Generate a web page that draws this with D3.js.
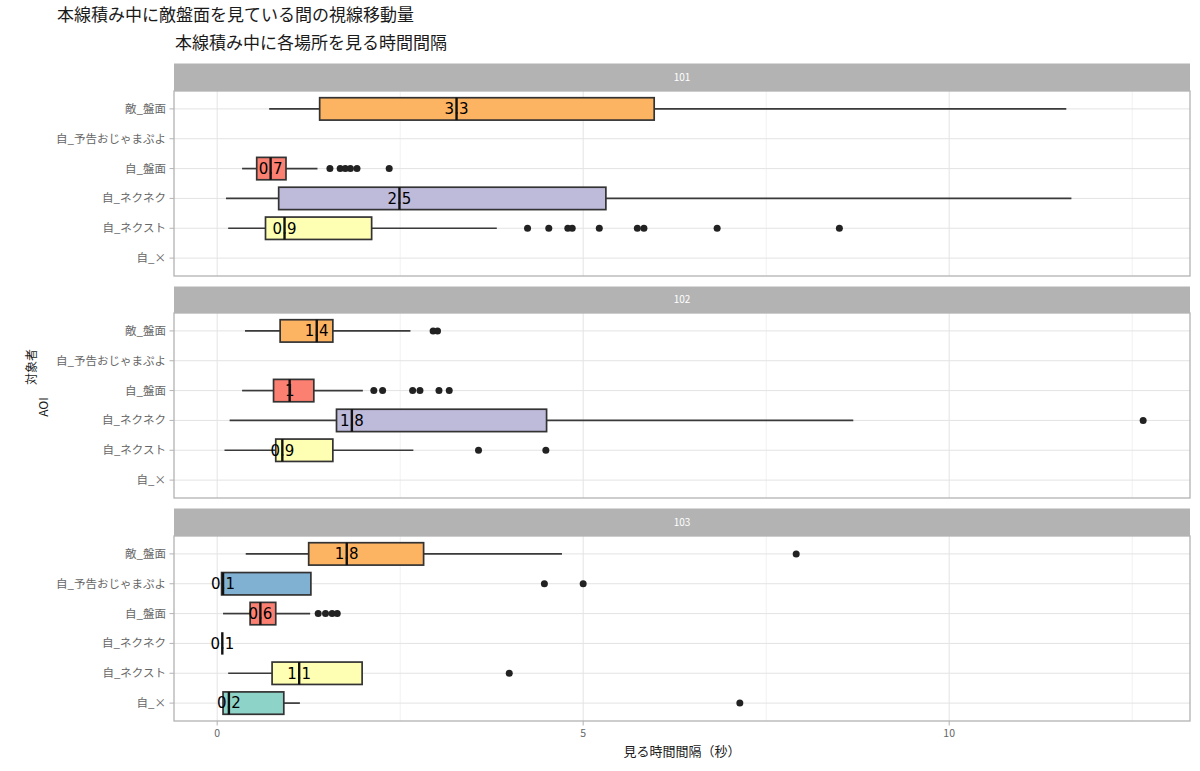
<!DOCTYPE html>
<html><head><meta charset="utf-8">
<script src="https://cdn.jsdelivr.net/npm/d3@7"></script>
<style>body{margin:0;background:#fff}text{font-family:"Noto Sans CJK JP","Noto Sans",sans-serif}</style>
</head><body><svg id="c" width="1200" height="771"></svg>
<script>
// ---- data ----
const title = "本線積み中に敵盤面を見ている間の視線移動量";
const subtitle = "本線積み中に各場所を見る時間間隔";
const categories = ["敵_盤面","自_予告おじゃまぷよ","自_盤面","自_ネクネク","自_ネクスト","自_×"];
const subjects = ["101","102","103"];
const xTicks = [0, 5, 10];
const xMinor = [2.5, 7.5, 12.5];
const xDomain = [-0.59, 13.29];
// [lower whisker, Q1, median, Q3, upper whisker] per category (null = no data)
const box101 = [[0.71,1.40,3.27,5.97,11.60], null, [0.34,0.54,0.73,0.94,1.37], [0.12,0.84,2.49,5.31,11.67], [0.15,0.66,0.92,2.11,3.82], null];
const out101 = [[], [], [1.54,1.68,1.75,1.82,1.91,2.35], [], [4.24,4.53,4.79,4.85,5.22,5.74,5.83,6.83,8.50], []];
const box102 = [[0.38,0.86,1.36,1.58,2.64], null, [0.34,0.77,0.99,1.32,1.99], [0.17,1.63,1.84,4.50,8.69], [0.10,0.80,0.89,1.58,2.68], null];
const out102 = [[2.95,3.01], [], [2.14,2.26,2.67,2.77,3.03,3.17], [12.65], [3.57,4.49], []];
const box103 = [[0.39,1.25,1.77,2.82,4.71], [0.06,0.06,0.08,1.28,1.28], [0.08,0.45,0.59,0.80,1.27], [0.07,0.07,0.07,0.07,0.07], [0.15,0.75,1.12,1.98,1.98], [0.08,0.08,0.16,0.91,1.13]];
const out103 = [[7.91], [4.47,5.00], [1.38,1.48,1.57,1.64], [], [3.99], [7.14]];
const boxes = [box101, box102, box103];
const outliers = [out101, out102, out103];

// ---- layout ----
const svg = d3.select("#c");
const L = 174, R = 1190;
const panels = [{s:63.5, t:91, b:276}, {s:286.5, t:313, b:498}, {s:508.5, t:536, b:721}];
const x = d3.scaleLinear().domain(xDomain).range([L, R]);
const color = d3.scaleOrdinal().domain(categories.slice().reverse()).range(d3.schemeSet3.slice(0, 6));
const fmt = v => String(Math.round(v * 10) / 10);

svg.append("rect").attr("width",1200).attr("height",771).attr("fill","#fff");
svg.append("text").attr("x",57).attr("y",21).attr("font-size",17).attr("fill","#1a1a1a").text(title);
svg.append("text").attr("x",175).attr("y",49).attr("font-size",17).attr("fill","#1a1a1a").text(subtitle);

panels.forEach((p, i) => {
  const y = d3.scalePoint().domain(categories).range([p.t, p.b]).padding(0.6);
  const bh = y.step() * 0.75;
  const g = svg.append("g");
  // strip
  g.append("rect").attr("x",L).attr("y",p.s).attr("width",R-L).attr("height",p.t-p.s).attr("fill","#B3B3B3");
  g.append("text").attr("x",(L+R)/2).attr("y",(p.s+p.t)/2).attr("dy","0.35em").attr("text-anchor","middle")
    .attr("font-size",10).attr("fill","#fff").text(subjects[i]);
  // grid
  g.selectAll(".gm").data(xMinor).join("line").attr("x1",d=>x(d)).attr("x2",d=>x(d)).attr("y1",p.t).attr("y2",p.b)
    .attr("stroke","#EDEDED").attr("stroke-width",0.8);
  g.selectAll(".gx").data(xTicks).join("line").attr("x1",d=>x(d)).attr("x2",d=>x(d)).attr("y1",p.t).attr("y2",p.b)
    .attr("stroke","#E3E3E3").attr("stroke-width",1);
  g.selectAll(".gy").data(categories).join("line").attr("x1",L).attr("x2",R).attr("y1",d=>y(d)).attr("y2",d=>y(d))
    .attr("stroke","#E3E3E3").attr("stroke-width",1);
  // y axis
  g.selectAll(".yt").data(categories).join("line").attr("x1",L-4.5).attr("x2",L).attr("y1",d=>y(d)).attr("y2",d=>y(d))
    .attr("stroke","#B3B3B3").attr("stroke-width",1);
  g.selectAll(".yl").data(categories).join("text").attr("x",L-8).attr("y",d=>y(d)).attr("dy","0.35em")
    .attr("text-anchor","end").attr("font-size",11.5).attr("fill","#666").text(d=>d);
  // boxes
  const rows = categories.map((c, k) => ({c, st: boxes[i][k], out: outliers[i][k]}));
  rows.forEach(r => {
    const cy = y(r.c);
    if (r.st) {
      const [lo, q1, md, q3, hi] = r.st;
      g.append("line").attr("x1",x(lo)).attr("x2",x(q1)).attr("y1",cy).attr("y2",cy).attr("stroke","#3a3a3a").attr("stroke-width",1.7);
      g.append("line").attr("x1",x(q3)).attr("x2",x(hi)).attr("y1",cy).attr("y2",cy).attr("stroke","#3a3a3a").attr("stroke-width",1.7);
      g.append("rect").attr("x",x(q1)).attr("y",cy-bh/2).attr("width",x(q3)-x(q1)).attr("height",bh)
        .attr("fill",color(r.c)).attr("stroke","#333").attr("stroke-width",1.7);
      g.append("text").attr("x",x(md)).attr("y",cy).attr("dy","0.36em").attr("text-anchor","middle")
        .attr("font-size",15).attr("fill","#000").attr("style","font-family:'DejaVu Sans',sans-serif").text(fmt(md));
      g.append("line").attr("x1",x(md)).attr("x2",x(md)).attr("y1",cy-bh/2).attr("y2",cy+bh/2).attr("stroke","#111").attr("stroke-width",2.4);
    }
    g.selectAll(null).data(r.out).join("circle").attr("cx",d=>x(d)).attr("cy",cy).attr("r",3.5).attr("fill","#222");
  });
  // border
  g.append("rect").attr("x",L).attr("y",p.t).attr("width",R-L).attr("height",p.b-p.t)
    .attr("fill","none").attr("stroke","#B3B3B3").attr("stroke-width",1.3);
});

// x axis
const xb = panels[2].b;
svg.selectAll(".xt").data(xTicks).join("line").attr("x1",d=>x(d)).attr("x2",d=>x(d)).attr("y1",xb).attr("y2",xb+4.5)
  .attr("stroke","#B3B3B3");
svg.selectAll(".xl").data(xTicks).join("text").attr("x",d=>x(d)).attr("y",xb+16).attr("text-anchor","middle")
  .attr("font-size",10.5).attr("fill","#666").text(d=>d);
svg.append("text").attr("x",(L+R)/2).attr("y",756).attr("text-anchor","middle").attr("font-size",13).attr("fill","#1a1a1a").text("見る時間間隔（秒）");
svg.append("text").attr("transform","translate(36,367) rotate(-90)").attr("text-anchor","middle").attr("font-size",12).attr("fill","#1a1a1a").text("対象者");
svg.append("text").attr("transform","translate(48,407) rotate(-90)").attr("text-anchor","middle").attr("font-size",12).attr("fill","#1a1a1a").text("AOI");
</script></body></html>
